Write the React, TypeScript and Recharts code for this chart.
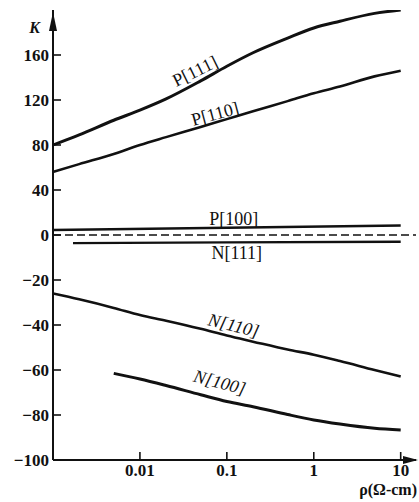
import { LineChart, Line, XAxis, YAxis, ReferenceLine, ReferenceDot } from 'recharts'

// resistivity grid (Ω-cm) used by most curves
const rhoGrid = [0.001, 0.002, 0.005, 0.01, 0.02, 0.05, 0.1, 0.2, 0.5, 1, 2, 5, 10]

const p111 = [80, 89, 102, 111, 121, 137, 150, 162, 175, 184, 190, 197, 200]
const p110 = [56, 63, 72, 80, 87, 96, 103, 110, 119, 126, 132, 141, 146]
const n110 = [-26, -28.6, -32.4, -35.6, -38.1, -41.7, -44.7, -47.4, -50.9, -53.2, -56, -60, -62.9]

const p100Rho = [0.001, 0.1, 10]
const p100 = [4.5, 6.5, 8.5]

const n111Rho = [0.0017, 0.1, 10]
const n111 = [-3.6, -3.3, -3.0]

const n100Rho = [0.005, 0.01, 0.02, 0.05, 0.1, 0.2, 0.5, 1, 2, 5, 10]
const n100 = [-61.5, -64, -66.9, -71, -74, -76.3, -79.8, -82.2, -84, -85.9, -86.7]

const xTicks = [0.01, 0.1, 1, 10]
const kTicks = [160, 120, 80, 40, 0, -20, -40, -60, -80, -100]

// curve labels
const labelNames = ['P[111]', 'P[110]', 'P[100]', 'N[111]', 'N[110]', 'N[100]']
const labelRho = [0.043, 0.073, 0.12, 0.13, 0.12, 0.083]
const labelK = [146, 108, 14.2, -8, -40, -65.3]
const labelAngle = [-26, -15, 0, 0, 14, 15]
const labelItalic = [false, false, false, false, true, true]

// the positive half of the K axis is drawn at half scale
const squash = (k: number) => (k > 0 ? k / 2 : k)
const unsquash = (v: number) => (v > 0 ? v * 2 : v)

const toRows = (xs: number[], ks: number[]) => ks.map((k, i) => ({ rho: xs[i], v: squash(k) }))

const font = '"Liberation Serif", "Times New Roman", serif'
const ink = '#111'

function KTick({ x, y, payload }: any) {
  const k = unsquash(payload.value)
  return (
    <g>
      <line x1={x + 4} y1={y} x2={x + 12} y2={y} stroke={ink} strokeWidth={1.6} />
      <text x={x} y={y + 6} textAnchor="end" fontFamily={font} fontWeight="bold" fontSize={17} fill={ink}>
        {k < 0 ? '\u2212' + -k : String(k)}
      </text>
    </g>
  )
}

function RhoTick({ x, y, payload }: any) {
  return (
    <g>
      <line x1={x} y1={y} x2={x} y2={y - 8} stroke={ink} strokeWidth={1.6} />
      <text x={x} y={y + 16} textAnchor="middle" fontFamily={font} fontWeight="bold" fontSize={17} fill={ink}>
        {String(payload.value)}
      </text>
    </g>
  )
}

// axis titles, each with its arrowhead
function RhoTitle({ viewBox }: any) {
  const right = viewBox.x + viewBox.width
  return (
    <g>
      <polygon points={`${right + 2},${viewBox.y} ${right - 13},${viewBox.y - 4} ${right - 13},${viewBox.y + 4}`} fill={ink} />
      <text x={right + 1} y={viewBox.y + viewBox.height - 3} textAnchor="end" fontFamily={font} fontWeight="bold" fontSize={16} fill={ink}>
        ρ(Ω-cm)
      </text>
    </g>
  )
}

function KTitle({ viewBox }: any) {
  const axisX = viewBox.x + viewBox.width
  return (
    <g>
      <polygon points={`${axisX},${viewBox.y + 2} ${axisX - 4},${viewBox.y + 21} ${axisX + 4},${viewBox.y + 21}`} fill={ink} />
      <text x={axisX - 13} y={viewBox.y + 23} textAnchor="end" fontFamily={font} fontWeight="bold" fontStyle="italic" fontSize={16} fill={ink}>
        K
      </text>
    </g>
  )
}

export default function App() {
  return (
    <div style={{ position: 'absolute', left: 0, top: 0, background: '#fff' }}>
      <LineChart width={419} height={502} margin={{ top: 10, right: 3, bottom: 4, left: 0 }}>
        <XAxis
          type="number"
          dataKey="rho"
          scale="log"
          domain={[0.001, 15]}
          ticks={xTicks}
          interval={0}
          allowDataOverflow
          height={38}
          axisLine={{ stroke: ink, strokeWidth: 2 }}
          tickLine={false}
          tickSize={0}
          tickMargin={0}
          tick={<RhoTick />}
          label={{ content: (p: any) => <RhoTitle viewBox={p.viewBox} /> }}
        />
        <YAxis
          type="number"
          domain={[-100, 100]}
          ticks={kTicks.map(squash)}
          interval={0}
          allowDataOverflow
          width={53}
          axisLine={{ stroke: ink, strokeWidth: 2 }}
          tickLine={false}
          tickSize={0}
          tickMargin={4}
          tick={<KTick />}
          label={{ content: (p: any) => <KTitle viewBox={p.viewBox} /> }}
        />
        <ReferenceLine y={0} stroke={ink} strokeWidth={1.5} strokeDasharray="8 4" />

        <Line data={toRows(rhoGrid, p111)} dataKey="v" type="monotone" stroke={ink} strokeWidth={3} dot={false} isAnimationActive={false} />
        <Line data={toRows(rhoGrid, p110)} dataKey="v" type="monotone" stroke={ink} strokeWidth={2.6} dot={false} isAnimationActive={false} />
        <Line data={toRows(p100Rho, p100)} dataKey="v" type="monotone" stroke={ink} strokeWidth={2.4} dot={false} isAnimationActive={false} />
        <Line data={toRows(n111Rho, n111)} dataKey="v" type="monotone" stroke={ink} strokeWidth={2.4} dot={false} isAnimationActive={false} />
        <Line data={toRows(rhoGrid, n110)} dataKey="v" type="monotone" stroke={ink} strokeWidth={2.6} dot={false} isAnimationActive={false} />
        <Line data={toRows(n100Rho, n100)} dataKey="v" type="monotone" stroke={ink} strokeWidth={3} dot={false} isAnimationActive={false} />

        {labelNames.map((name, i) => (
          <ReferenceDot
            key={name}
            x={labelRho[i]}
            y={squash(labelK[i])}
            r={0}
            fill="none"
            stroke="none"
            ifOverflow="visible"
            label={{
              value: name,
              position: 'center',
              angle: labelAngle[i],
              fontFamily: font,
              fontSize: 18,
              fontStyle: labelItalic[i] ? 'italic' : 'normal',
              fill: ink,
            }}
          />
        ))}
      </LineChart>
    </div>
  )
}
